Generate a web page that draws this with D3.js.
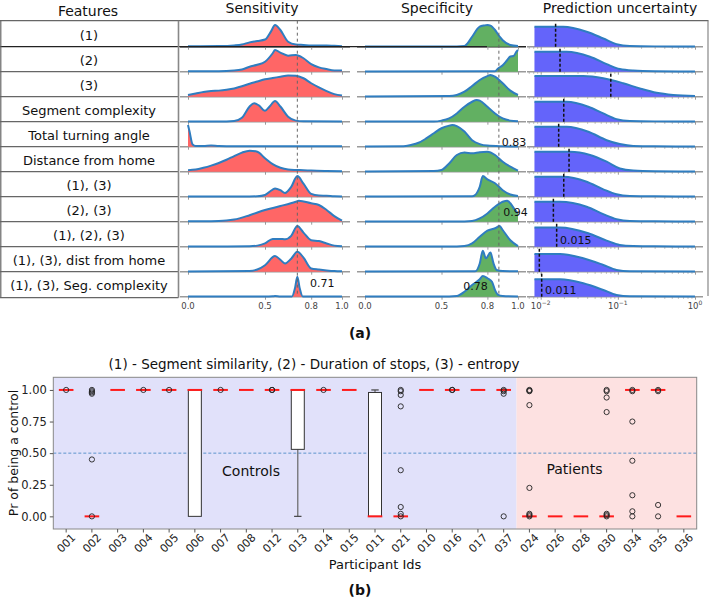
<!DOCTYPE html>
<html><head><meta charset="utf-8">
<script src="https://cdn.jsdelivr.net/npm/d3@7"></script>
<style>body{margin:0;background:#fff}svg{display:block}text{font-family:"DejaVu Sans",Verdana,sans-serif;fill:#111}</style>
</head><body><svg id="c" width="709" height="599"></svg>
<script>
// ---------- DATA ----------
const features = ["(1)","(2)","(3)","Segment complexity","Total turning angle","Distance from home","(1), (3)","(2), (3)","(1), (2), (3)","(1), (3), dist from home","(1), (3), Seg. complexity"];
const panelTitles = ["Features","Sensitivity","Specificity","Prediction uncertainty"];
// density curves: [value, relative density]
const sensitivity = [
 [[0,.02],[.2,.03],[.3,.06],[.35,.1],[.4,.2],[.45,.26],[.5,.33],[.54,.72],[.565,1],[.6,.77],[.65,.23],[.7,.1],[.75,.08],[.8,.06],[.9,.06],[.95,.04],[1,.02]],
 [[0,.02],[.2,.02],[.3,.05],[.35,.1],[.4,.23],[.45,.32],[.5,.46],[.55,.85],[.565,1],[.6,.88],[.65,.74],[.7,.77],[.75,.62],[.8,.35],[.85,.2],[.9,.12],[.95,.06],[1,.05]],
 [[0,.08],[.05,.15],[.1,.22],[.15,.26],[.2,.28],[.25,.32],[.3,.38],[.35,.48],[.4,.6],[.45,.7],[.5,.8],[.55,.86],[.6,.92],[.65,.98],[.7,.97],[.75,.85],[.8,.62],[.85,.43],[.9,.26],[.95,.12],[1,.05]],
 [[0,.01],[.25,.01],[.3,.03],[.35,.18],[.4,.7],[.43,.85],[.46,.75],[.5,.5],[.53,.7],[.565,.95],[.6,.7],[.65,.23],[.7,.05],[.75,.02],[1,.01]],
 [[0,1],[.01,.7],[.03,.1],[.05,.03],[.1,.03],[.15,.06],[.2,.03],[.3,.02],[1,.02]],
 [[0,.07],[.05,.1],[.1,.18],[.15,.28],[.2,.4],[.25,.55],[.3,.72],[.35,.88],[.4,.97],[.45,.92],[.5,.62],[.55,.35],[.6,.18],[.65,.1],[.7,.08],[.75,.07],[.8,.05],[.9,.03],[1,.02]],
 [[0,.01],[.4,.01],[.45,.02],[.5,.08],[.55,.33],[.565,.38],[.6,.3],[.63,.17],[.67,.45],[.71,.95],[.75,.6],[.8,.13],[.85,.05],[.9,.04],[.95,.02],[1,.01]],
 [[0,.02],[.1,.02],[.2,.03],[.25,.05],[.3,.1],[.4,.3],[.5,.54],[.6,.72],[.7,.92],[.72,.97],[.8,.85],[.85,.77],[.9,.54],[.95,.26],[1,.05]],
 [[0,.01],[.4,.02],[.45,.05],[.5,.15],[.55,.36],[.6,.36],[.63,.34],[.67,.5],[.71,.95],[.75,.65],[.8,.3],[.85,.26],[.9,.15],[.95,.05],[1,.02]],
 [[0,.01],[.4,.03],[.45,.1],[.5,.3],[.565,.72],[.6,.55],[.63,.38],[.67,.6],[.71,.92],[.75,.65],[.8,.15],[.85,.1],[.9,.06],[.95,.03],[1,.02]],
 [[0,.01],[.5,.01],[.55,.02],[.565,.03],[.6,.01],[.675,.01],[.695,.4],[.71,.92],[.725,.4],[.745,.01],[1,.01]]
];
const specificity = [
 [[0,.01],[.6,.01],[.65,.03],[.67,.15],[.7,.46],[.75,.92],[.78,.98],[.8,1],[.82,.97],[.85,.77],[.88,.46],[.9,.3],[.95,.08],[1,.03]],
 [[0,.01],[.85,.02],[.87,.15],[.9,.3],[.93,.54],[.95,.7],[.97,.72],[.99,.92],[1,1]],
 [[0,.01],[.55,.03],[.6,.08],[.65,.23],[.7,.49],[.75,.77],[.8,.95],[.82,1],[.85,.92],[.9,.62],[.95,.28],[1,.08]],
 [[0,.01],[.45,.01],[.5,.05],[.55,.15],[.6,.38],[.65,.69],[.7,.92],[.73,1],[.75,.97],[.8,.69],[.85,.38],[.9,.15],[.95,.05],[1,.02]],
 [[0,.01],[.25,.02],[.3,.08],[.35,.18],[.4,.38],[.45,.62],[.5,.85],[.55,.97],[.57,1],[.6,.95],[.65,.7],[.7,.3],[.75,.12],[.8,.05],[.9,.02],[1,.01]],
 [[0,.01],[.45,.03],[.5,.08],[.55,.38],[.6,.77],[.65,.88],[.7,.85],[.75,.9],[.8,.92],[.85,.77],[.9,.46],[.95,.23],[1,.05]],
 [[0,.01],[.7,.02],[.72,.08],[.75,.46],[.77,.95],[.8,.8],[.85,.62],[.9,.3],[.95,.1],[1,.03]],
 [[0,.01],[.65,.01],[.7,.03],[.75,.15],[.8,.38],[.85,.69],[.9,.92],[.93,.97],[.95,.85],[.98,.54],[1,.38]],
 [[0,.01],[.6,.01],[.65,.03],[.7,.15],[.75,.46],[.8,.74],[.85,.85],[.88,.95],[.9,.77],[.95,.3],[1,.03]],
 [[0,.01],[.72,.02],[.75,.38],[.77,.97],[.79,.62],[.82,.88],[.84,.38],[.86,.08],[.9,.03],[1,.02]],
 [[0,.01],[.55,.01],[.6,.03],[.65,.23],[.7,.54],[.75,.8],[.77,.95],[.8,.85],[.83,.69],[.85,.3],[.87,.08],[.9,.03],[1,.01]]
];
const uncertainty = [
 [[0.0083,.92],[0.0196,.92],[0.0394,.69],[0.0647,.38],[0.096,.12],[0.143,.03],[0.3,.015],[1,.01]],
 [[0.0083,.92],[0.0217,.92],[0.0435,.69],[0.0716,.35],[0.106,.12],[0.158,.05],[0.3,.02],[1,.01]],
 [[0.0083,.95],[0.0356,.95],[0.0647,.85],[0.117,.62],[0.193,.38],[0.318,.18],[0.523,.08],[1,.03]],
 [[0.0083,.92],[0.0217,.92],[0.0414,.69],[0.0647,.38],[0.096,.12],[0.143,.03],[0.3,.015],[1,.01]],
 [[0.0083,.92],[0.0217,.92],[0.0414,.69],[0.0716,.3],[0.106,.12],[0.158,.03],[0.3,.015],[1,.01]],
 [[0.0083,.92],[0.024,.92],[0.0436,.77],[0.0716,.46],[0.106,.15],[0.158,.05],[0.3,.02],[1,.01]],
 [[0.0083,.92],[0.0196,.92],[0.0394,.69],[0.0647,.34],[0.096,.11],[0.143,.03],[0.3,.015],[1,.01]],
 [[0.0083,.92],[0.0178,.92],[0.0394,.69],[0.0647,.35],[0.096,.12],[0.143,.03],[0.3,.015],[1,.01]],
 [[0.0083,.89],[0.0178,.89],[0.0414,.62],[0.0716,.28],[0.106,.08],[0.158,.03],[0.3,.015],[1,.01]],
 [[0.0083,.82],[0.0178,.82],[0.0356,.62],[0.0647,.31],[0.096,.08],[0.143,.02],[1,.01]],
 [[0.0083,.8],[0.0178,.8],[0.0356,.62],[0.0647,.31],[0.096,.08],[0.143,.02],[1,.01]]
];
const uncertaintyMedians = [0.0156,0.0178,0.081,0.0199,0.0171,0.0233,0.0199,0.0146,0.0161,0.0096,0.0103];
const sensRef = 0.71, specRef = 0.875;
const annotations = [ // [panel, row, text]
 ["spec",4,"0.83"],["spec",7,"0.94"],["spec",10,"0.78"],["sens",10,"0.71"],["unc",8,"0.015"],["unc",10,"0.011"]];
const linTicks = [0,0.5,0.8,1.0];
const logTicks = [0.01,0.1,1];

// part (b)
const participants = ["001","002","003","004","005","006","007","008","012","013","014","015","011","021","010","016","017","037","024","026","028","030","034","035","036"];
const nControls = 18;
const medians = [1,0,1,1,1,1,1,1,1,1,1,1,0,0,1,1,1,1,0,0,0,0,1,1,0];
const q1s     = [1,0,1,1,1,0,1,1,1,0.53,1,1,0,0,1,1,1,1,0,0,0,0,1,1,0];
const q3s     = [1,0,1,1,1,1,1,1,1,1,1,1,0.98,0,1,1,1,1,0,0,0,0,1,1,0];
const whiskLo = [1,0,1,1,1,0,1,1,1,0,1,1,0,0,1,1,1,1,0,0,0,0,1,1,0];
const whiskHi = [1,0,1,1,1,1,1,1,1,1,1,1,1.0,0,1,1,1,1,0,0,0,0,1,1,0];
const fliers = [[1],[1,0.99,0.98,0.97,0.45,0],[],[1],[1],[],[1],[],[1,1],[],[1],[],[],
 [1,0.99,0.96,0.87,0.365,0.074,0.02,0],[],[1,1],[],[1,0.99,0.97,0],
 [1,0.995,0.99,0.88,0.225,0.02,0.01,0],[],[],[1,0.99,0.94,0.825,0.02,0.01,0],[1,0.99,0.75,0.44,0.167,0.04,0],[1,0.99,0.09,0],[]];
const yTicks = [0,0.25,0.5,0.75,1];

// ---------- DRAW ----------
const svg = d3.select("#c");
const ROWH = 25, HMAX = 21.7, TOPY = 20.7;
const base = k => 46.7 + ROWH*k;
const nRows = features.length;
const lastBase = base(nRows-1);

const xs = d3.scaleLinear().domain([0,1]).range([188,342]);
const xp = d3.scaleLinear().domain([0,1]).range([365,518]);
const xu = d3.scaleLog().domain([0.01,1]).range([540.7,695]);
const panels = {
 sens:{x:xs,data:sensitivity,fill:"#ff6666",spine:[180,350]},
 spec:{x:xp,data:specificity,fill:"#62b062",spine:[357,526]},
 unc:{x:xu,data:uncertainty,fill:"#6464fa",spine:[527,703]}
};

// headers
const hx = [88,262,437,620];
panelTitles.forEach((t,i)=>svg.append("text").attr("x",hx[i]).attr("y",i==0?15.5:13.3)
  .attr("text-anchor","middle").style("font-size","14px").text(t));

// row contents
Object.entries(panels).forEach(([key,p])=>{
  p.data.forEach((d,k)=>{
    const b = base(k);
    const y = d3.scaleLinear().domain([0,1]).range([b,b-HMAX]);
    const g = svg.append("g");
    g.append("line").attr("x1",p.spine[0]).attr("x2",p.spine[1]).attr("y1",b).attr("y2",b)
      .attr("stroke",k==0&&key!="unc"?"#222":"#9a9a9a").attr("stroke-width",1.6);
    // ticks
    const ax = key=="unc" ? d3.axisBottom(p.x).tickValues(logTicks) : d3.axisBottom(p.x).tickValues(linTicks);
    ax.tickSize(3).tickFormat("");
    const ag = g.append("g").attr("transform",`translate(0,${b})`).call(ax);
    ag.select(".domain").remove();
    ag.selectAll("line").attr("stroke","#999");
    if(key=="unc"){
      const minor=[];[0.001,0.01,0.1].forEach(dec=>{for(let m=2;m<10;m++){const v=m*dec; if(xu(v)>=p.spine[0]&&xu(v)<=p.spine[1]) minor.push(v);}});
      const mg = g.append("g").attr("transform",`translate(0,${b})`).call(d3.axisBottom(xu).tickValues(minor).tickSize(2).tickFormat(""));
      mg.select(".domain").remove(); mg.selectAll("line").attr("stroke","#aaa");
    }
    const area = d3.area().x(v=>p.x(v[0])).y0(b).y1(v=>y(v[1])).curve(d3.curveMonotoneX);
    const line = d3.line().x(v=>p.x(v[0])).y(v=>y(v[1])).curve(d3.curveMonotoneX);
    g.append("path").attr("d",area(d)).attr("fill",p.fill);
    g.append("path").attr("d",line(d)).attr("fill","none").attr("stroke","#2f7dc0").attr("stroke-width",2);
    if(key=="unc"){
      const mx = xu(uncertaintyMedians[k]);
      g.append("line").attr("x1",mx).attr("x2",mx).attr("y1",b-23).attr("y2",b)
        .attr("stroke","#111").attr("stroke-width",1.5).attr("stroke-dasharray","3,2");
    }
  });
});
// reference dashed lines
[[xs,sensRef],[xp,specRef]].forEach(([sc,v])=>{
  svg.append("line").attr("x1",sc(v)).attr("x2",sc(v)).attr("y1",TOPY).attr("y2",lastBase)
    .attr("stroke","#666").attr("stroke-width",1).attr("stroke-dasharray","3,3");
});
// bottom tick labels
[[xs,linTicks],[xp,linTicks]].forEach(([sc,tv])=>{
  tv.forEach(v=>svg.append("text").attr("x",sc(v)).attr("y",309).attr("text-anchor","middle")
    .style("font-size","8.5px").style("fill","#444").text(d3.format(".1f")(v)));
});
logTicks.forEach(v=>{
  const t = svg.append("text").attr("x",xu(v)).attr("y",309).attr("text-anchor","middle").style("font-size","8.5px").style("fill","#444");
  t.append("tspan").text("10");
  t.append("tspan").attr("dy",-4).style("font-size","6px").text(String(Math.round(Math.log10(v))).replace("-","\u2212"));
});
// annotations
const annPos = {sens:[310,0], spec:[0,0], unc:[0,0]};
const annX = {"0.83":501.7,"0.94":503.3,"0.78":463.3,"0.71":310,"0.015":560,"0.011":545};
const annY = {"0.83":146,"0.94":215.5,"0.78":290,"0.71":287,"0.015":244,"0.011":294};
annotations.forEach(([p,k,t])=>svg.append("text").attr("x",annX[t]).attr("y",annY[t]).style("font-size","11px").text(t));

// table
const tbl = svg.append("g").attr("stroke","#666").attr("stroke-width",1.2);
for(let k=0;k<=nRows;k++){
  const yy = k==0?TOPY:(k==nRows?297.7:base(k-1));
  tbl.append("line").attr("x1",0).attr("x2",k==0?708.5:(k==1?487:178.5)).attr("y1",yy).attr("y2",yy)
    .attr("stroke",k==1?"#222":"#666");
}
tbl.append("line").attr("x1",0.8).attr("x2",0.8).attr("y1",TOPY).attr("y2",297.7);
tbl.append("line").attr("x1",178.5).attr("x2",178.5).attr("y1",TOPY).attr("y2",297.7).attr("stroke","#888").attr("stroke-width",1.6);
tbl.append("line").attr("x1",708).attr("x2",708).attr("y1",TOPY).attr("y2",296).attr("stroke","#888");
features.forEach((f,k)=>svg.append("text").attr("x",89).attr("y",base(k)-12.5+1.5).attr("dy","0.35em")
  .attr("text-anchor","middle").style("font-size","13px").text(f));

svg.append("text").attr("x",360).attr("y",338).attr("text-anchor","middle").style("font-size","14px").style("font-weight","bold").text("(a)");

// ---------- part (b) ----------
const L=53.3,R=696.7,T=377.3,B=529;
const xb = d3.scaleBand().domain(participants).range([L,R]);
const bw = xb.bandwidth();
const cx = c => xb(c)+bw/2;
const yb = d3.scaleLinear().domain([-0.1,1.1]).range([B,T]);
const split = xb(participants[nControls]);
svg.append("rect").attr("x",L).attr("y",T).attr("width",split-L).attr("height",B-T).attr("fill","#e1e1fa");
svg.append("rect").attr("x",split).attr("y",T).attr("width",R-split).attr("height",B-T).attr("fill","#fde1e1");
svg.append("line").attr("x1",L).attr("x2",R).attr("y1",yb(0.5)).attr("y2",yb(0.5))
  .attr("stroke","#3b7fc0").attr("stroke-width",0.8).attr("stroke-dasharray","3,2");
svg.append("text").attr("x",251).attr("y",475.5).attr("text-anchor","middle").style("font-size","14px").text("Controls");
svg.append("text").attr("x",574.5).attr("y",474).attr("text-anchor","middle").style("font-size","14px").text("Patients");

participants.forEach((c,i)=>{
  const x0 = cx(c), hb = 6.5;
  const g = svg.append("g");
  // whiskers
  if(whiskLo[i]<q1s[i]){
    g.append("line").attr("x1",x0).attr("x2",x0).attr("y1",yb(q1s[i])).attr("y2",yb(whiskLo[i])).attr("stroke","#666").attr("stroke-width",1.2);
    g.append("line").attr("x1",x0-3.7).attr("x2",x0+3.7).attr("y1",yb(whiskLo[i])).attr("y2",yb(whiskLo[i])).attr("stroke","#444").attr("stroke-width",1.2);
  }
  if(whiskHi[i]>q3s[i]){
    g.append("line").attr("x1",x0).attr("x2",x0).attr("y1",yb(q3s[i])).attr("y2",yb(whiskHi[i])).attr("stroke","#666").attr("stroke-width",1.2);
    g.append("line").attr("x1",x0-3.7).attr("x2",x0+3.7).attr("y1",yb(whiskHi[i])).attr("y2",yb(whiskHi[i])).attr("stroke","#444").attr("stroke-width",1.2);
  }
  g.append("rect").attr("x",x0-hb).attr("width",2*hb).attr("y",yb(q3s[i])).attr("height",Math.max(0,yb(q1s[i])-yb(q3s[i])))
    .attr("fill","#fff").attr("stroke","#333").attr("stroke-width",1);
  g.append("line").attr("x1",x0-7.3).attr("x2",x0+7.3).attr("y1",yb(medians[i])).attr("y2",yb(medians[i]))
    .attr("stroke","#ff1a1a").attr("stroke-width",2);
  fliers[i].forEach(v=>g.append("circle").attr("cx",x0).attr("cy",yb(v)).attr("r",2.6)
    .attr("fill","none").attr("stroke","#222").attr("stroke-width",0.9));
});
// frame
svg.append("rect").attr("x",L).attr("y",T).attr("width",R-L).attr("height",B-T).attr("fill","none").attr("stroke","#888").attr("stroke-width",1);
// axes
const ya = svg.append("g").attr("transform",`translate(${L},0)`).call(d3.axisLeft(yb).tickValues(yTicks).tickFormat(d3.format(".2f")).tickSize(3.5).tickPadding(3));
ya.select(".domain").remove();
ya.selectAll("line").attr("stroke","#555");
ya.selectAll("text").style("font-size","11.5px").style("font-family","DejaVu Sans").style("fill","#222");
const xa = svg.append("g").attr("transform",`translate(0,${B})`).call(d3.axisBottom(xb).tickSize(3.5).tickFormat(""));
xa.select(".domain").remove();
xa.selectAll("line").attr("stroke","#555");
participants.forEach(c=>svg.append("text").attr("x",cx(c)).attr("y",543).attr("text-anchor","middle").attr("dy","0.35em")
  .attr("transform",`rotate(-45,${cx(c)},543)`).style("font-size","11px").style("fill","#222").text(c));
svg.append("text").attr("x",375).attr("y",569).attr("text-anchor","middle").style("font-size","13px").text("Participant Ids");
svg.append("text").attr("transform","translate(18,453) rotate(-90)").attr("text-anchor","middle").style("font-size","12.5px").text("Pr of being a control");
svg.append("text").attr("x",314).attr("y",369).attr("text-anchor","middle").style("font-size","13.5px").text("(1) - Segment similarity, (2) - Duration of stops, (3) - entropy");
svg.append("text").attr("x",360).attr("y",595).attr("text-anchor","middle").style("font-size","14px").style("font-weight","bold").text("(b)");
</script></body></html>
